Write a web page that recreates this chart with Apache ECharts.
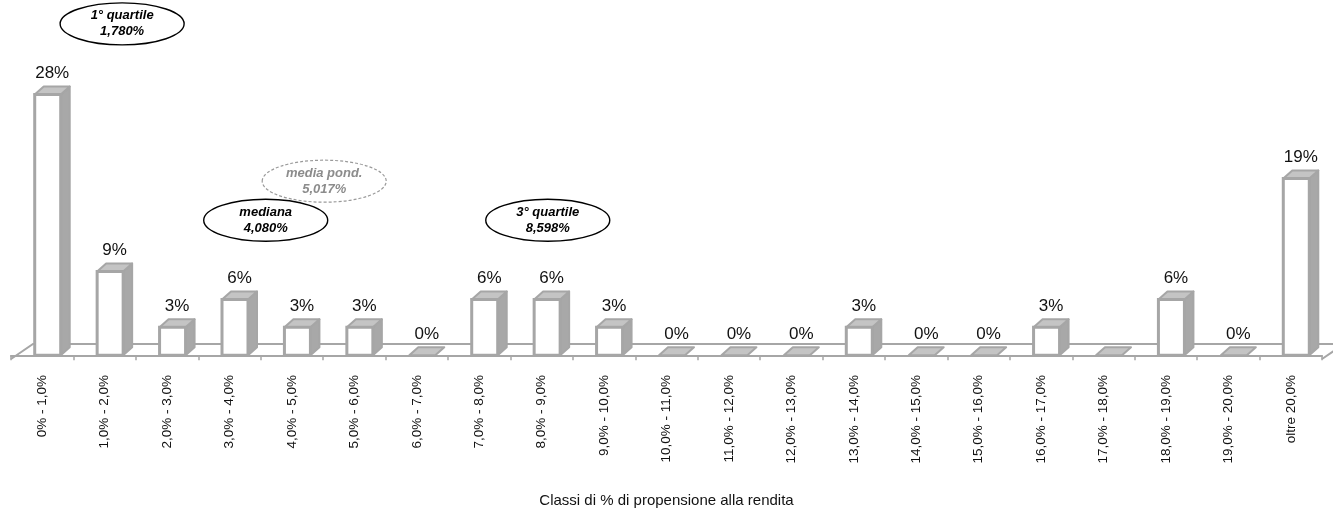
<!DOCTYPE html>
<html>
<head>
<meta charset="utf-8">
<script src="https://cdn.jsdelivr.net/npm/echarts@6/dist/echarts.min.js"></script>
<style>
  html, body { margin: 0; padding: 0; background: #ffffff; }
  #chart { width: 1333px; height: 513px; }
</style>
</head>
<body>
<div id="chart"></div>
<script>
// Classes of "propensione alla rendita" (%)
const categories = [
  '0% - 1,0%', '1,0% - 2,0%', '2,0% - 3,0%', '3,0% - 4,0%', '4,0% - 5,0%',
  '5,0% - 6,0%', '6,0% - 7,0%', '7,0% - 8,0%', '8,0% - 9,0%', '9,0% - 10,0%',
  '10,0% - 11,0%', '11,0% - 12,0%', '12,0% - 13,0%', '13,0% - 14,0%', '14,0% - 15,0%',
  '15,0% - 16,0%', '16,0% - 17,0%', '17,0% - 18,0%', '18,0% - 19,0%', '19,0% - 20,0%',
  'oltre 20,0%'
];
// Share of cases in each class (%)
const shares = [28, 9, 3, 6, 3, 3, 0, 6, 6, 3, 0, 0, 0, 3, 0, 0, 3, 0, 6, 0, 19];
// Classes whose value label is not shown
const unlabeled = [17];

// Distribution statistics shown as callouts on the class scale
const markerNames = ['1° quartile', 'mediana', 'media pond.', '3° quartile'];
const markerValues = [1.780, 4.080, 5.017, 8.598];

const axisTitle = 'Classi di % di propensione alla rendita';

// ---- drawing ----
const FONT = '"Liberation Sans", Arial, sans-serif';
const EDGE = '#a6a6a6';
const TOP_FILL = '#c4c4c4';
const SIDE_FILL = '#a8a8a8';

// bar geometry (px): front face relative to the band centre, plus depth offset
const FRONT_L = -7.5, FRONT_R = 18.5, DEPTH_X = 9, DEPTH_Y = 8;
// floor depth (px)
const FLOOR_X = 22, FLOOR_Y = 15;
// vertical placement of callouts, in share units
const calloutLevel = [35.6, 14.5, 18.7, 14.5];

const fmtPct = v => v.toFixed(3).replace('.', ',') + '%';

const chart = echarts.init(document.getElementById('chart'), null, { renderer: 'canvas' });

function renderFloor(params) {
  const cs = params.coordSys;
  const x0 = cs.x, x1 = cs.x + cs.width, yb = cs.y + cs.height;
  return {
    type: 'polyline',
    shape: {
      points: [[x0, yb], [x0 + FLOOR_X, yb - FLOOR_Y], [x1 + FLOOR_X, yb - FLOOR_Y], [x1, yb]]
    },
    style: { stroke: EDGE, lineWidth: 2, fill: null },
    silent: true
  };
}

function renderBar(params, api) {
  const i = api.value(0);
  const v = api.value(1);
  const base = api.coord([i, 0]);
  const top = api.coord([i, v]);
  const c = base[0];
  const yb = base[1];
  const yt = top[1];
  const l = c + FRONT_L, r = c + FRONT_R;
  const children = [];
  if (v > 0) {
    children.push({
      type: 'polygon',
      shape: { points: [[r, yb], [r + DEPTH_X, yb - DEPTH_Y], [r + DEPTH_X, yt - DEPTH_Y], [r, yt]] },
      style: { fill: SIDE_FILL, stroke: EDGE, lineWidth: 2, lineJoin: 'round' }
    });
    children.push({
      type: 'polygon',
      shape: { points: [[l, yt], [r, yt], [r + DEPTH_X, yt - DEPTH_Y], [l + DEPTH_X, yt - DEPTH_Y]] },
      style: { fill: TOP_FILL, stroke: EDGE, lineWidth: 2, lineJoin: 'round' }
    });
    children.push({
      type: 'rect',
      shape: { x: l, y: yt, width: r - l, height: yb - yt },
      style: { fill: '#ffffff', stroke: EDGE, lineWidth: 3 }
    });
  } else {
    children.push({
      type: 'polygon',
      shape: { points: [[l, yb], [r, yb], [r + DEPTH_X, yb - DEPTH_Y], [l + DEPTH_X, yb - DEPTH_Y]] },
      style: { fill: TOP_FILL, stroke: EDGE, lineWidth: 2, lineJoin: 'round' }
    });
  }
  if (unlabeled.indexOf(i) < 0) {
    children.push({
      type: 'text',
      style: {
        text: Math.round(v) + '%',
        x: c + (FRONT_L + FRONT_R + DEPTH_X) / 2,
        y: yt - DEPTH_Y - 13,
        align: 'center',
        verticalAlign: 'middle',
        fontSize: 17,
        fontFamily: FONT,
        fill: '#111111'
      }
    });
  }
  return { type: 'group', children: children };
}

function renderCallout(params, api) {
  const idx = params.dataIndex;
  const p = api.coord([api.value(0), calloutLevel[idx]]);
  const dashed = markerNames[idx] === 'media pond.';
  const ink = dashed ? '#8c8c8c' : '#000000';
  return {
    type: 'group',
    children: [
      {
        type: 'ellipse',
        shape: { cx: p[0], cy: p[1], rx: 62, ry: 21 },
        style: {
          fill: '#ffffff',
          stroke: dashed ? '#9a9a9a' : '#000000',
          lineWidth: dashed ? 1.2 : 1.4,
          lineDash: dashed ? [3, 2] : null
        }
      },
      {
        type: 'text',
        style: {
          text: markerNames[idx] + '\n' + fmtPct(markerValues[idx]),
          x: p[0], y: p[1],
          align: 'center', verticalAlign: 'middle',
          fontSize: 13, lineHeight: 16,
          fontWeight: 'bold', fontStyle: 'italic',
          fontFamily: FONT, fill: ink
        }
      }
    ]
  };
}

chart.setOption({
  animation: false,
  backgroundColor: '#ffffff',
  grid: { left: 11, right: 11, top: 76, bottom: 151 },
  xAxis: [
    {
      type: 'category',
      data: categories,
      boundaryGap: true,
      axisLine: { show: true, lineStyle: { color: EDGE, width: 2 } },
      axisTick: { show: true, interval: 0, length: 5, lineStyle: { color: EDGE, width: 1.5 } },
      axisLabel: {
        interval: 0, rotate: 90, margin: 16,
        fontSize: 13.5, fontFamily: FONT, color: '#111111'
      },
      splitLine: { show: false },
      name: axisTitle,
      nameLocation: 'middle',
      nameGap: 134,
      nameTextStyle: { fontSize: 15, fontFamily: FONT, color: '#111111' }
    },
    { type: 'value', min: 0, max: categories.length, show: false }
  ],
  yAxis: { type: 'value', min: -0.4, max: 30, show: false, splitLine: { show: false } },
  series: [
    {
      type: 'custom', name: 'floor', xAxisIndex: 0, z: 1, clip: false, silent: true,
      renderItem: renderFloor, data: [[0, 0]]
    },
    {
      type: 'custom', name: 'quota', xAxisIndex: 0, z: 2, clip: false,
      renderItem: renderBar,
      encode: { x: 0, y: 1 },
      data: shares.map((v, i) => [i, v])
    },
    {
      type: 'custom', name: 'statistiche', xAxisIndex: 1, z: 3, clip: false,
      renderItem: renderCallout,
      encode: { x: 0 },
      data: markerValues.map((v, i) => [v, i])
    }
  ]
});
</script>
</body>
</html>
